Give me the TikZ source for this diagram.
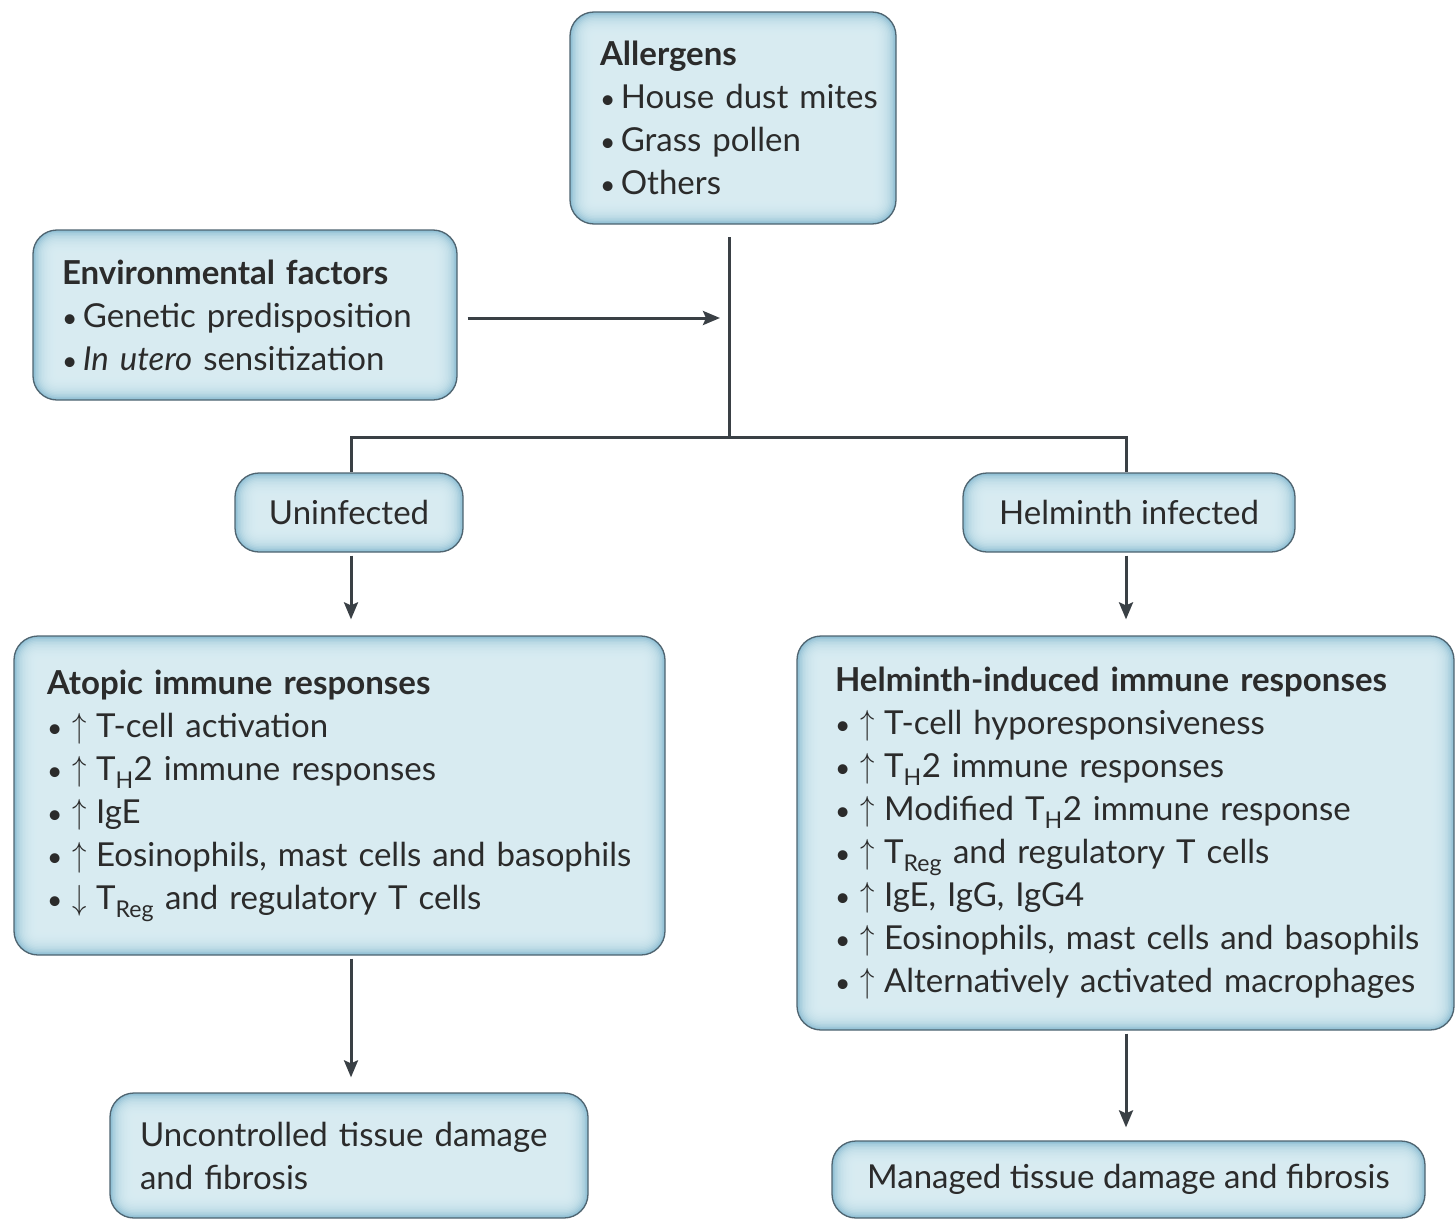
\documentclass[tikz,border=0pt]{standalone}
\usepackage{fontspec}
\setmainfont{Lato}
\usetikzlibrary{arrows.meta}
\definecolor{boxin}{HTML}{DDEFF5}
\definecolor{boxedge}{HTML}{8DBED3}
\definecolor{boxline}{HTML}{4F6470}
\definecolor{txt}{HTML}{2B2B2B}
\definecolor{conn}{HTML}{3A4045}
\newcommand{\bx}{{\scalebox{0.8}{\textbullet}}\,}
\newcommand{\up}{\hspace{5pt}\scalebox{1.15}[1.4]{$\uparrow$}\hspace{9pt}}
\newcommand{\dn}{\hspace{5pt}\scalebox{1.15}[1.4]{$\downarrow$}\hspace{9pt}}
\tikzset{
  box/.style={draw=boxline, line width=1.3pt, rounded corners=24pt, fill=boxedge,
    path picture={
      \foreach \d [evaluate=\d as \r using {max(24-1.5*\d,5)}] in {1,...,15}
        \fill[boxin, opacity=0.2, rounded corners=\r pt]
          ([shift={(1.5*\d pt,-1.5*\d pt)}]path picture bounding box.north west) rectangle
          ([shift={(-1.5*\d pt,1.5*\d pt)}]path picture bounding box.south east);
    },
    font=\fontsize{33}{43}\selectfont, text=txt, inner sep=0pt},
  lbox/.style={box, align=left},
  cbox/.style={box, align=center},
  conn/.style={draw=conn, line width=3pt},
  arr/.style={conn, -{Stealth[length=17pt,width=14pt,inset=3pt]}}
}
\begin{document}
\begin{tikzpicture}[x=1pt,y=-1pt]
\useasboundingbox (0,0) rectangle (1455,1220);
\node[lbox, minimum width=326pt, minimum height=212pt, text width=266pt] (allergens) at (733,118)
  {{\bfseries Allergens}\\\mbox{\bx House dust mites}\\\bx Grass pollen\\\bx Others};
\node[lbox, minimum width=424pt, minimum height=170pt, text width=366pt] (env) at (245,315)
  {{\bfseries Environmental factors}\\\bx Genetic predisposition\\\bx \textit{In utero} sensitization};
\node[cbox, minimum width=228pt, minimum height=79pt] (uninf) at (349,512.5) {Uninfected};
\node[cbox, minimum width=332pt, minimum height=79pt] (helinf) at (1129,512.5) {Helminth infected};
\node[lbox, minimum width=651pt, minimum height=319pt, text width=585pt] (atopic) at (339.5,795.5)
  {{\bfseries Atopic immune responses}\\
   \bx\up T-cell activation\\
   \bx\up T\textsubscript{H}2 immune responses\\
   \bx\up IgE\\
   \bx\up Eosinophils, mast cells and basophils\\
   \bx\dn T\textsubscript{Reg} and regulatory T cells};
\node[lbox, minimum width=657pt, minimum height=394pt, text width=581pt] (helm) at (1125.5,833)
  {{\bfseries Helminth-induced immune responses}\\
   \bx\up T-cell hyporesponsiveness\\
   \bx\up T\textsubscript{H}2 immune responses\\
   \bx\up Modified T\textsubscript{H}2 immune response\\
   \bx\up T\textsubscript{Reg} and regulatory T cells\\
   \bx\up IgE, IgG, IgG4\\
   \bx\up \mbox{Eosinophils, mast cells and basophils}\\
   \bx\up \mbox{Alternatively activated macrophages}};
\node[lbox, minimum width=478pt, minimum height=125pt, text width=418pt] (uncon) at (349,1155.5)
  {Uncontrolled tissue damage\\and fibrosis};
\node[cbox, minimum width=593pt, minimum height=77pt] (managed) at (1128.5,1179.5)
  {Managed tissue damage and fibrosis};
% connectors
\coordinate (top) at (729,237);
\coordinate (j) at (729,437);
\coordinate (jl) at (351,437);
\coordinate (jr) at (1126,437);
\coordinate (envtip) at (720,318);
\draw[conn] (top) -- (j);
\draw[conn, line cap=rect] (jl) -- (jr);
\draw[conn] (jl) -- (jl |- uninf.north);
\draw[conn] (jr) -- (jr |- helinf.north);
\draw[arr] ([xshift=10pt]env.east |- envtip) -- (envtip);
\draw[arr, shorten <=3pt, shorten >=16pt] (uninf.south -| jl) -- (atopic.north -| jl);
\draw[arr, shorten <=3pt, shorten >=16pt] (helinf.south -| jr) -- (helm.north -| jr);
\draw[arr, shorten <=3pt, shorten >=15pt] (atopic.south -| jl) -- (uncon.north -| jl);
\draw[arr, shorten <=3pt, shorten >=13pt] (helm.south -| jr) -- (managed.north -| jr);
\end{tikzpicture}
\end{document}
